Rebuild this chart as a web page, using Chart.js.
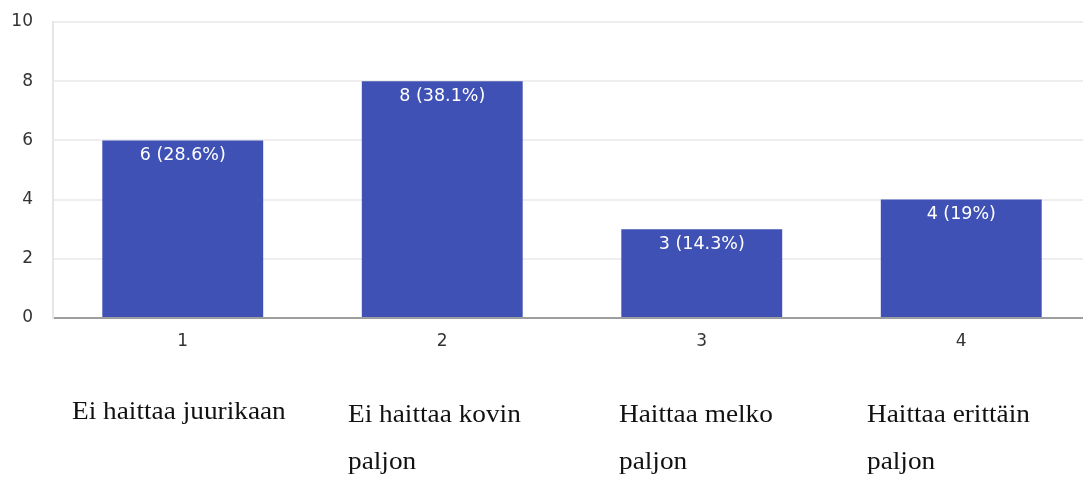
<!DOCTYPE html>
<html>
<head>
<meta charset="utf-8">
<script src="https://cdn.jsdelivr.net/npm/chart.js@4/dist/chart.umd.min.js"></script>
<style>
  html, body { margin: 0; padding: 0; background: #fff; width: 1083px; height: 479px; overflow: hidden; }
  #wrap { position: relative; width: 1083px; height: 479px; overflow: hidden; }
  #box { position: absolute; left: 0; top: 0; width: 1091px; height: 479px; }
  .cap { position: absolute; font-family: "Liberation Serif", "DejaVu Serif", serif; font-size: 26px;
         line-height: 47px; color: #111; white-space: nowrap;
         transform: scaleX(1.05); transform-origin: 0 0; }
</style>
</head>
<body>
<div id="wrap">
  <div id="box"><canvas id="c"></canvas></div>
</div>
<script>
// Answer options (scale 1–4) and how many respondents picked each
const categories = ["1", "2", "3", "4"];
const counts = [6, 8, 3, 4];
const percents = ["28.6", "38.1", "14.3", "19"];
const yTicks = [0, 2, 4, 6, 8, 10];
// Verbal meaning of each scale point, printed under the chart
const scaleCaptions = [
  ["Ei haittaa juurikaan"],
  ["Ei haittaa kovin", "paljon"],
  ["Haittaa melko", "paljon"],
  ["Haittaa erittäin", "paljon"]
];

const captionPos = [
  { left: 72, top: 387 },
  { left: 348, top: 390 },
  { left: 619, top: 390 },
  { left: 867, top: 390 }
];
const wrap = document.getElementById('wrap');
scaleCaptions.forEach((lines, i) => {
  const d = document.createElement('div');
  d.className = 'cap';
  d.style.left = captionPos[i].left + 'px';
  d.style.top = captionPos[i].top + 'px';
  d.innerHTML = lines.join('<br>');
  wrap.appendChild(d);
});

const sansFont = '"DejaVu Sans", "Liberation Sans", Arial, sans-serif';

// Prints "count (percent%)" inside the top of each bar
const barValueLabels = {
  id: 'barValueLabels',
  afterDatasetsDraw(chart) {
    const ctx = chart.ctx;
    const meta = chart.getDatasetMeta(0);
    ctx.save();
    ctx.fillStyle = '#ffffff';
    ctx.font = '17.5px ' + sansFont;
    ctx.textAlign = 'center';
    ctx.textBaseline = 'middle';
    meta.data.forEach((bar, i) => {
      ctx.fillText(counts[i] + ' (' + percents[i] + '%)', bar.x, bar.y + 15);
    });
    ctx.restore();
  }
};

new Chart(document.getElementById('c'), {
  type: 'bar',
  data: {
    labels: categories,
    datasets: [{
      data: counts,
      backgroundColor: '#3f51b5',
      borderWidth: 0,
      categoryPercentage: 1.0,
      barPercentage: 0.62
    }]
  },
  options: {
    responsive: true,
    maintainAspectRatio: false,
    animation: false,
    layout: { padding: { top: 22, left: 0, right: 0, bottom: 0 } },
    plugins: {
      legend: { display: false },
      tooltip: { enabled: false }
    },
    scales: {
      x: {
        grid: { display: false, drawTicks: false },
        border: { display: true, color: '#9e9e9e', width: 2 },
        ticks: {
          color: '#333',
          padding: 13,
          font: { family: sansFont, size: 17 }
        },
        afterFit(scale) { scale.height = 161; }
      },
      y: {
        min: 0,
        max: 10,
        afterBuildTicks(scale) { scale.ticks = yTicks.map(v => ({ value: v })); },
        grid: { color: '#eeeeee', lineWidth: 2, drawTicks: false },
        border: { display: true, color: '#e6e6e6', width: 2 },
        ticks: {
          color: '#333',
          padding: 20,
          font: { family: sansFont, size: 17 }
        },
        afterFit(scale) {
          scale.width = 53;
          scale.paddingTop = 0;
          scale.paddingBottom = 0;
        }
      }
    }
  },
  plugins: [barValueLabels]
});
</script>
</body>
</html>
